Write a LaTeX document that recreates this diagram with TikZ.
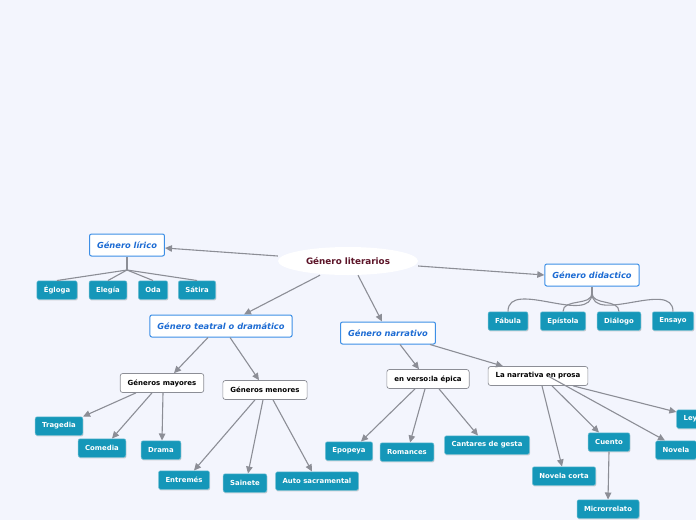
\documentclass[tikz,border=0pt]{standalone}
\usepackage{fontspec}
\setmainfont{DejaVu Sans}
\usepackage{tikz}
\usetikzlibrary{arrows.meta,positioning,calc,shadows,shapes.geometric}
\definecolor{mapBg}{HTML}{F3F5FD}
\definecolor{mapTeal}{HTML}{1597B9}
\definecolor{mapBlue}{HTML}{3D8FE6}
\definecolor{mapBlueTxt}{HTML}{1C6BD3}
\definecolor{mapGrey}{HTML}{8C8E96}
\definecolor{mapRoot}{HTML}{5C1428}

\tikzset{
  rootnode/.style={ellipse,fill=white,minimum width=140pt,minimum height=28pt,
    font=\fontsize{8.8}{10}\selectfont\bfseries,text=mapRoot,inner sep=0pt},
  mainbox/.style={draw=mapBlue,line width=1pt,rounded corners=2pt,fill=white,
    font=\fontsize{8.3}{10}\selectfont\bfseries\itshape,text=mapBlueTxt,
    minimum height=22pt,inner xsep=7.5pt},
  subbox/.style={draw=mapGrey,line width=0.7pt,rounded corners=2.5pt,fill=white,
    font=\fontsize{7}{8}\selectfont\bfseries,text=black,
    minimum height=19pt,inner xsep=7.5pt},
  leaf/.style={fill=mapTeal,draw=mapTeal!60!white,line width=0.5pt,rounded corners=2pt,
    font=\fontsize{6.9}{8}\selectfont\bfseries,text=white,
    minimum height=18.5pt,inner xsep=7pt,
    drop shadow={shadow xshift=0.6pt,shadow yshift=-1.2pt,opacity=0.35}},
  link/.style={draw=mapGrey,line width=1.1pt,-{Triangle[length=7pt,width=6.5pt]}},
  branch/.style={draw=mapGrey,line width=1.1pt}
}

\begin{document}
\begin{tikzpicture}[x=1pt,y=-1pt]
  \fill[mapBg] (0,0) rectangle (696,520);
  \clip (0,0) rectangle (696,520);

  % centre and first level
  \node[rootnode] (root) at (348,261) {Género literarios};
  \node[mainbox] (lirico) at (127,245) {Género lírico};
  \node[mainbox] (didac) at (592,275) {Género didactico};
  \node[mainbox] (teatral) at (221,326) {Género teatral o dramático};
  \node[mainbox] (narrat) at (388,333) {Género narrativo};

  \draw[link] ([yshift=5pt]root.west) -- ([yshift=-3pt]lirico.east);
  \draw[link] ([yshift=-5pt]root.east) -- (didac.west);
  \draw[link] ([xshift=-28pt]root.south) -- ([xshift=23pt]teatral.north);
  \draw[link] ([xshift=10pt]root.south) -- ([xshift=-6pt]narrat.north);

  % lírico leaves
  \coordinate (lirfork) at (127,270);
  \foreach \n/\x/\t in {egloga/57/Égloga,elegia/108/Elegía,oda/153/Oda,satira/197/Sátira}{
    \node[leaf] (\n) at (\x,290) {\t};
    \draw[branch] (lirfork) -- (\n.north);
  }
  \draw[branch] (lirico.south) -- (lirfork);

  % didáctico leaves
  \coordinate (didfork) at (592,293);
  \draw[branch] (didac.south) -- (didfork);
  \foreach \n/\x/\t in {fabula/508/Fábula,epistola/563/Epístola,dialogo/619/Diálogo,ensayo/673/Ensayo}{
    \node[leaf] (\n) at (\x,321) {\t};
    \draw[branch] (didfork) to[out=-90,in=90] (\n.north);
  }

  % teatral
  \node[subbox] (mayores) at (162,383) {Géneros mayores};
  \node[subbox] (menores) at (265,390) {Géneros menores};
  \draw[link] ([xshift=-13pt]teatral.south) -- ([xshift=12pt]mayores.north);
  \draw[link] ([xshift=9pt]teatral.south) -- ([xshift=-6pt]menores.north);

  \node[leaf] (tragedia) at (59,426) {Tragedia};
  \node[leaf] (comedia) at (102,448) {Comedia};
  \node[leaf] (drama) at (161,450) {Drama};
  \draw[link] ([xshift=-26pt]mayores.south) -- (tragedia.north east);
  \draw[link] ([xshift=-10pt]mayores.south) -- ([xshift=10pt]comedia.north);
  \draw[link] ([xshift=1pt]mayores.south) -- ([xshift=1pt]drama.north);

  \node[leaf] (entremes) at (184,480) {Entremés};
  \node[leaf] (sainete) at (245,483) {Sainete};
  \node[leaf] (auto) at (317,481) {Auto sacramental};
  \draw[link] ([xshift=-10pt]menores.south) -- ([xshift=10pt]entremes.north);
  \draw[link] ([xshift=-2pt]menores.south) -- ([xshift=3pt]sainete.north);
  \draw[link] ([xshift=8pt]menores.south) -- ([xshift=-5pt]auto.north);

  % narrativo
  \node[subbox] (verso) at (428,379) {en verso:la épica};
  \node[subbox] (prosa) at (538,376) {La narrativa en prosa};
  \draw[link] ([xshift=12pt]narrat.south) -- ([xshift=-9pt]verso.north);
  \draw[link] ([xshift=42pt]narrat.south) -- ([xshift=-35pt]prosa.north);

  \node[leaf] (epopeya) at (349,451) {Epopeya};
  \node[leaf] (romances) at (407,452) {Romances};
  \node[leaf] (cantares) at (487,445) {Cantares de gesta};
  \draw[link] ([xshift=-13pt]verso.south) -- ([xshift=12pt]epopeya.north);
  \draw[link] ([xshift=-3pt]verso.south) -- ([xshift=3pt]romances.north);
  \draw[link] ([xshift=11pt]verso.south) -- ([xshift=-9pt]cantares.north);

  \node[leaf] (novcorta) at (564,476) {Novela corta};
  \node[leaf] (cuento) at (609,442) {Cuento};
  \node[leaf] (micro) at (608,509) {Microrrelato};
  \node[leaf] (novela) at (676,450) {Novela};
  \node[leaf] (leyenda) at (700,419) {Leyenda};
  \draw[link] ([xshift=4pt]prosa.south) -- ([xshift=-2pt]novcorta.north);
  \draw[link] ([xshift=14pt]prosa.south) -- ([xshift=-10pt]cuento.north);
  \draw[link] ([xshift=10pt]prosa.center) -- ([xshift=-11pt]novela.north);
  \draw[link] ([xshift=35pt]prosa.south) -- ([yshift=7pt]leyenda.west);
  \draw[link] (cuento.south) -- (micro.north);
\end{tikzpicture}
\end{document}
